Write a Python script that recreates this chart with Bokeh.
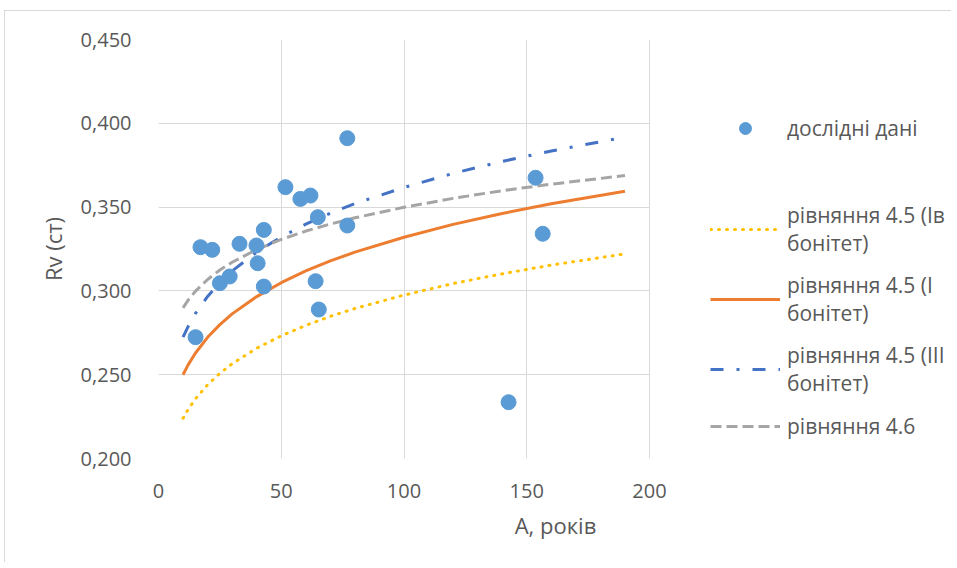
from bokeh.plotting import figure
from bokeh.models import FixedTicker, Legend, LegendItem, Range1d, ColumnDataSource
from bokeh.embed import file_html
from bokeh.resources import INLINE

# experimental data (age, years ; Rv)
age = [15.1, 17.1, 21.9, 25.0, 29.0, 33.0, 39.9, 40.4, 42.9, 42.9, 51.7, 57.8,
       61.9, 64.9, 64.0, 65.3, 76.9, 76.9, 142.6, 153.6, 156.5]
rv = [0.2724, 0.3261, 0.3245, 0.3046, 0.3086, 0.3281, 0.3271, 0.3165, 0.3364,
      0.3026, 0.3619, 0.3549, 0.3569, 0.3440, 0.3058, 0.2889, 0.3911, 0.3390,
      0.2336, 0.3675, 0.3341]

# model curves
curve_age = [10, 12, 15, 20, 25, 30, 40, 50, 60, 70, 80, 100, 120, 140, 160, 190]
eq45_iv = [0.224, 0.2291, 0.2355, 0.2440, 0.2508, 0.2565, 0.2658, 0.2732, 0.2794,
           0.2848, 0.2895, 0.2975, 0.3044, 0.3102, 0.3154, 0.3221]
eq45_i = [0.250, 0.2557, 0.2628, 0.2723, 0.2799, 0.2863, 0.2966, 0.3049, 0.3119,
          0.3179, 0.3231, 0.3320, 0.3397, 0.3462, 0.3520, 0.3595]
eq45_iii = [0.2724, 0.2786, 0.2864, 0.2967, 0.3050, 0.3119, 0.3232, 0.3322, 0.3398,
            0.3463, 0.3521, 0.3617, 0.3701, 0.3773, 0.3835, 0.3917]
eq46 = [0.2899, 0.2943, 0.2997, 0.3068, 0.3125, 0.3171, 0.3247, 0.3307, 0.3357,
        0.3399, 0.3436, 0.3499, 0.3552, 0.3598, 0.3637, 0.3688]

x_ticks = [0, 50, 100, 150, 200]
y_ticks = [0.20, 0.25, 0.30, 0.35, 0.40, 0.45]
y_tick_labels = ["0,200", "0,250", "0,300", "0,350", "0,400", "0,450"]

series_names = ["дослідні дані", "рівняння 4.5 (Ів\nбонітет)", "рівняння 4.5 (I\nбонітет)",
                "рівняння 4.5 (III\nбонітет)", "рівняння 4.6"]

FONT = "Open Sans"
TXT = "#595959"
GRID = "#D9D9D9"

# layout: the plotting frame is widened to also hold the legend on its right;
# the chart itself (axes, grid) is bounded to x = 0..200 which spans PLOT_W px.
FIG_W, FIG_H = 947, 552
LEFT, TOP, BOTTOM = 153, 28, 105
PLOT_W = 491
X_MAX = 200
frame_w = FIG_W - LEFT
x_end = X_MAX * frame_w / PLOT_W

p = figure(width=FIG_W, height=FIG_H, output_backend="svg", toolbar_location=None,
           x_range=Range1d(0, x_end), y_range=Range1d(0.20, 0.45),
           min_border_left=LEFT, min_border_right=0, min_border_top=TOP,
           min_border_bottom=BOTTOM,
           x_axis_label="A, років", y_axis_label="Rv (ст)")
p.styles = {"border-left": "1px solid #D9D9D9", "border-top": "1px solid #D9D9D9",
            "margin-left": "4px", "margin-top": "10px"}
p.outline_line_color = None
p.background_fill_color = "white"
p.border_fill_color = "white"

p.xaxis.ticker = FixedTicker(ticks=x_ticks)
p.xaxis.bounds = (0, X_MAX)
p.yaxis.ticker = FixedTicker(ticks=y_ticks)
p.yaxis.major_label_overrides = {t: l for t, l in zip(y_ticks, y_tick_labels)}
for ax in (p.xaxis[0], p.yaxis[0]):
    ax.axis_line_color = None
    ax.major_tick_line_color = None
    ax.minor_tick_line_color = None
    ax.major_label_text_font = FONT
    ax.major_label_text_font_size = "20px"
    ax.major_label_text_color = TXT
    ax.axis_label_text_font = FONT
    ax.axis_label_text_font_size = "22px"
    ax.axis_label_text_font_style = "normal"
    ax.axis_label_text_color = TXT
p.xaxis.major_label_standoff = 19
p.yaxis.major_label_standoff = 21
p.xaxis.axis_label_standoff = 9
p.yaxis.axis_label_standoff = 10
p.xgrid.grid_line_color = GRID
p.ygrid.grid_line_color = GRID
p.xgrid.ticker = FixedTicker(ticks=x_ticks)
p.ygrid.ticker = FixedTicker(ticks=y_ticks)
p.ygrid.cross_bounds = (0, X_MAX)

src = ColumnDataSource(dict(x=curve_age, iv=eq45_iv, i=eq45_i, iii=eq45_iii, e46=eq46))

r_iv = p.line("x", "iv", source=src, line_color="#FFC000", line_width=3,
              line_dash="1 7", line_cap="round")
r_i = p.line("x", "i", source=src, line_color="#ED7D31", line_width=3)
r_iii = p.line("x", "iii", source=src, line_color="#4472C4", line_width=3,
               line_dash="13 13 3 13")
r_46 = p.line("x", "e46", source=src, line_color="#A5A5A5", line_width=3,
              line_dash="11 5")
r_sc = p.scatter(age, rv, size=15, fill_color="#5B9BD5", line_color="#5B9BD5")
# empty, invisible renderer used only to leave a blank row in the legend
r_gap = p.line(x=[], y=[], line_alpha=0)

legend = Legend(items=[
    LegendItem(label=series_names[0], renderers=[r_sc]),
    LegendItem(label=" ", renderers=[r_gap]),
    LegendItem(label=series_names[1], renderers=[r_iv]),
    LegendItem(label=series_names[2], renderers=[r_i]),
    LegendItem(label=series_names[3], renderers=[r_iii]),
    LegendItem(label=series_names[4], renderers=[r_46]),
], location=(552, 17), padding=0, margin=0, border_line_color=None,
   background_fill_alpha=0, glyph_width=70, glyph_height=30, label_standoff=7,
   spacing=14, label_text_font=FONT, label_text_font_size="21px",
   label_text_color=TXT, label_text_line_height=1.35)
p.add_layout(legend, "center")

open("out.html", "w").write(file_html(p, INLINE))
